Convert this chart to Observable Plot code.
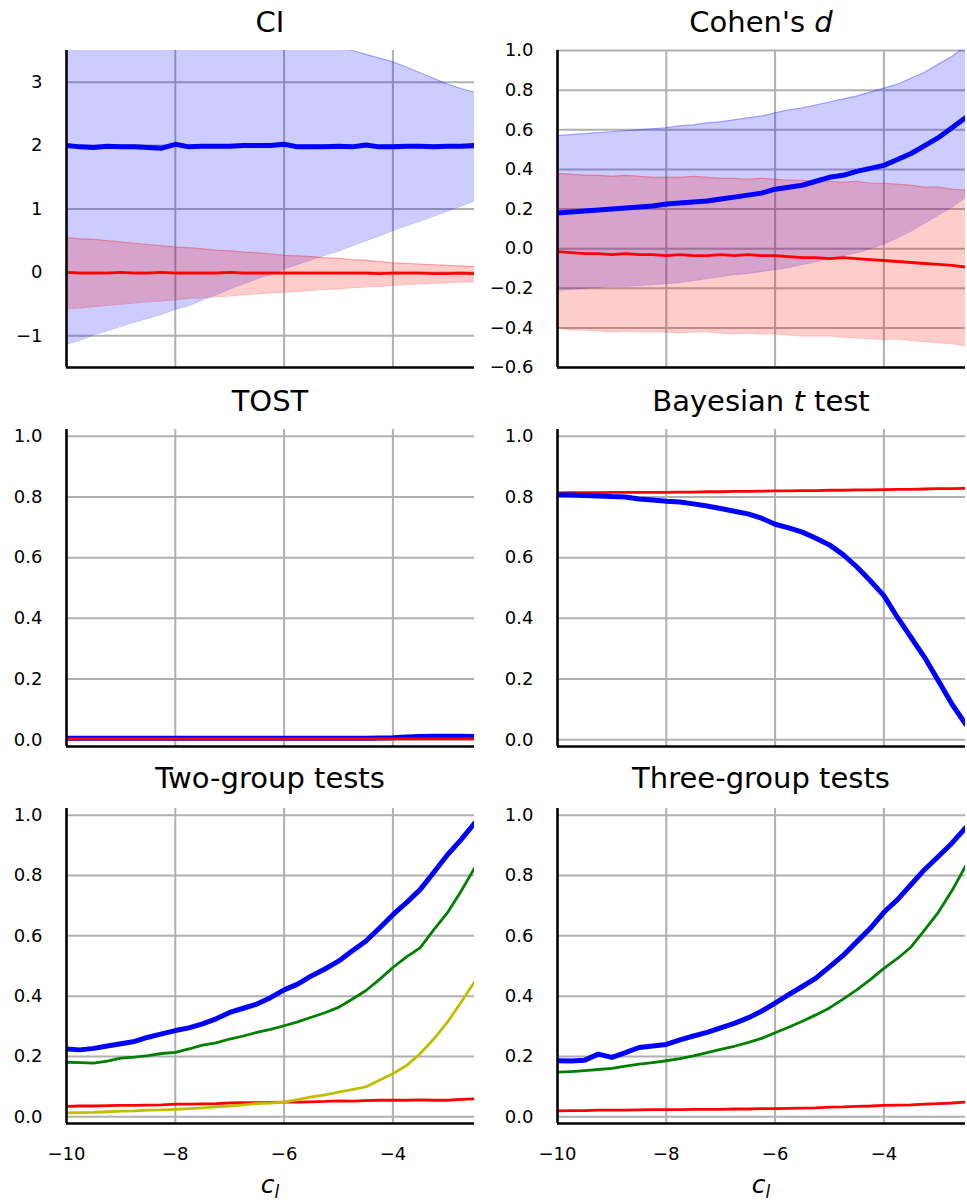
<!DOCTYPE html>
<html><head><meta charset="utf-8">
<script src="https://cdn.jsdelivr.net/npm/d3@7"></script>
<script src="https://cdn.jsdelivr.net/npm/@observablehq/plot@0.6"></script>
<style>
body{margin:0;background:#fff;font-family:"DejaVu Sans",sans-serif;}
#fig{position:relative;width:967px;height:1204px;overflow:hidden;}
.panel{position:absolute;}
.title{position:absolute;font-size:29px;line-height:34px;text-align:center;color:#000;white-space:nowrap;}
.xlabel{position:absolute;font-size:25px;line-height:25px;font-style:italic;text-align:center;color:#000;}
.xlabel span{font-size:17px;line-height:17px;position:relative;top:5px;}
</style></head><body><div id="fig"></div><script>
// x values (c_l)
const xs = [-10,-9.75,-9.5,-9.25,-9,-8.75,-8.5,-8.25,-8,-7.75,-7.5,-7.25,-7,-6.75,-6.5,-6.25,-6,-5.75,-5.5,-5.25,-5,-4.75,-4.5,-4.25,-4,-3.75,-3.5,-3.25,-3,-2.75,-2.5];
const xTicks = [-10,-8,-6,-4];

// CI panel
const ciBlueMean = [2.00,1.98,1.97,1.99,1.98,1.98,1.97,1.96,2.02,1.98,1.99,1.99,1.99,2.00,2.00,2.00,2.02,1.98,1.98,1.98,1.99,1.98,2.01,1.98,1.98,1.99,1.99,1.98,1.99,1.99,2.00];
const ciBlueLo = [-1.13,-1.07,-0.98,-0.92,-0.85,-0.78,-0.72,-0.66,-0.58,-0.52,-0.43,-0.35,-0.26,-0.18,-0.10,-0.03,0.06,0.13,0.20,0.27,0.34,0.42,0.50,0.58,0.66,0.74,0.81,0.89,0.97,1.05,1.13];
const ciBlueHi = [5.13,5.05,4.98,4.92,4.85,4.78,4.72,4.66,4.58,4.52,4.43,4.35,4.26,4.18,4.10,4.03,3.94,3.87,3.80,3.72,3.62,3.50,3.44,3.38,3.32,3.24,3.15,3.06,2.97,2.90,2.84];
const ciRedMean = [0.00,-0.01,-0.01,-0.01,0.00,-0.01,-0.01,0.00,-0.01,-0.01,-0.01,-0.01,0.00,-0.01,-0.01,-0.01,-0.01,-0.01,-0.01,-0.01,-0.01,-0.01,-0.01,-0.02,-0.01,-0.01,-0.01,-0.02,-0.02,-0.01,-0.02];
const ciRedHi = [0.55,0.53,0.52,0.50,0.48,0.46,0.44,0.42,0.40,0.39,0.37,0.35,0.34,0.32,0.31,0.29,0.27,0.26,0.25,0.23,0.22,0.20,0.19,0.17,0.15,0.14,0.13,0.12,0.11,0.10,0.09];
const ciRedLo = [-0.57,-0.56,-0.54,-0.52,-0.50,-0.48,-0.46,-0.45,-0.43,-0.41,-0.40,-0.38,-0.37,-0.35,-0.34,-0.32,-0.31,-0.30,-0.28,-0.27,-0.26,-0.24,-0.23,-0.22,-0.20,-0.19,-0.18,-0.17,-0.16,-0.15,-0.15];

// Cohen's d panel
const dBlueMean = [0.18,0.185,0.19,0.195,0.20,0.205,0.21,0.215,0.225,0.23,0.235,0.24,0.25,0.26,0.27,0.28,0.30,0.31,0.32,0.34,0.36,0.37,0.39,0.405,0.42,0.45,0.48,0.52,0.56,0.61,0.66];
const dBlueHi = [0.57,0.575,0.58,0.585,0.59,0.595,0.60,0.605,0.61,0.62,0.625,0.635,0.64,0.65,0.66,0.67,0.685,0.70,0.71,0.725,0.74,0.755,0.77,0.79,0.81,0.83,0.86,0.89,0.93,0.97,1.02];
const dBlueLo = [-0.21,-0.205,-0.20,-0.195,-0.19,-0.19,-0.185,-0.18,-0.175,-0.17,-0.16,-0.15,-0.14,-0.13,-0.125,-0.115,-0.105,-0.095,-0.08,-0.065,-0.05,-0.035,-0.02,0.00,0.025,0.055,0.09,0.13,0.17,0.21,0.26];
const dRedMean = [-0.015,-0.02,-0.025,-0.025,-0.03,-0.025,-0.03,-0.03,-0.035,-0.03,-0.035,-0.035,-0.03,-0.035,-0.03,-0.035,-0.035,-0.04,-0.045,-0.045,-0.05,-0.045,-0.05,-0.055,-0.06,-0.065,-0.07,-0.075,-0.08,-0.085,-0.093];
const dRedHi = [0.38,0.375,0.37,0.37,0.365,0.37,0.365,0.36,0.36,0.36,0.365,0.36,0.355,0.355,0.35,0.355,0.35,0.345,0.345,0.34,0.34,0.335,0.34,0.33,0.33,0.325,0.32,0.31,0.31,0.30,0.295];
const dRedLo = [-0.40,-0.41,-0.41,-0.415,-0.42,-0.415,-0.42,-0.42,-0.42,-0.425,-0.42,-0.42,-0.425,-0.43,-0.425,-0.43,-0.43,-0.435,-0.44,-0.44,-0.44,-0.445,-0.45,-0.455,-0.46,-0.455,-0.465,-0.47,-0.475,-0.48,-0.49];

// TOST panel
const tostBlue = [0.005,0.005,0.005,0.005,0.005,0.005,0.005,0.005,0.005,0.005,0.005,0.005,0.005,0.005,0.005,0.005,0.005,0.005,0.005,0.005,0.005,0.005,0.005,0.006,0.007,0.009,0.011,0.012,0.012,0.012,0.011];
const tostRed = [0.003,0.003,0.003,0.003,0.003,0.003,0.003,0.003,0.003,0.003,0.003,0.003,0.003,0.003,0.003,0.003,0.003,0.003,0.003,0.003,0.003,0.003,0.003,0.003,0.003,0.003,0.003,0.003,0.003,0.003,0.003];

// Bayesian t test panel
const bayesRed = [0.813,0.814,0.814,0.814,0.815,0.815,0.815,0.815,0.815,0.816,0.816,0.817,0.817,0.818,0.818,0.819,0.820,0.820,0.821,0.821,0.822,0.822,0.823,0.823,0.824,0.825,0.825,0.826,0.827,0.827,0.828];
const bayesBlue = [0.807,0.806,0.805,0.803,0.801,0.800,0.793,0.790,0.786,0.783,0.777,0.770,0.762,0.753,0.744,0.730,0.710,0.698,0.684,0.664,0.642,0.610,0.570,0.524,0.475,0.403,0.337,0.271,0.195,0.118,0.052];

// Two-group tests panel
const twoBlue = [0.225,0.222,0.227,0.235,0.242,0.250,0.264,0.275,0.286,0.295,0.308,0.325,0.346,0.360,0.374,0.395,0.421,0.440,0.467,0.490,0.516,0.550,0.582,0.625,0.670,0.710,0.753,0.810,0.868,0.918,0.973];
const twoGreen = [0.181,0.180,0.178,0.185,0.195,0.198,0.203,0.210,0.214,0.225,0.238,0.245,0.258,0.268,0.280,0.290,0.302,0.315,0.330,0.345,0.363,0.390,0.418,0.455,0.495,0.530,0.560,0.620,0.676,0.747,0.824];
const twoYellow = [0.013,0.014,0.015,0.017,0.019,0.020,0.022,0.023,0.025,0.027,0.030,0.033,0.036,0.040,0.044,0.046,0.049,0.057,0.066,0.073,0.082,0.090,0.099,0.121,0.143,0.170,0.209,0.258,0.313,0.379,0.447];
const twoRed = [0.035,0.036,0.036,0.037,0.038,0.038,0.039,0.040,0.042,0.042,0.043,0.044,0.046,0.047,0.047,0.048,0.049,0.049,0.050,0.051,0.053,0.052,0.054,0.055,0.055,0.055,0.056,0.055,0.055,0.058,0.060];

// Three-group tests panel
const threeBlue = [0.186,0.185,0.188,0.208,0.197,0.213,0.230,0.235,0.240,0.255,0.268,0.280,0.295,0.310,0.328,0.350,0.377,0.405,0.432,0.460,0.497,0.535,0.580,0.625,0.678,0.720,0.770,0.820,0.863,0.907,0.958];
const threeGreen = [0.148,0.150,0.153,0.157,0.161,0.168,0.175,0.180,0.186,0.193,0.202,0.213,0.224,0.234,0.246,0.260,0.279,0.297,0.317,0.338,0.361,0.390,0.421,0.455,0.492,0.525,0.563,0.620,0.678,0.749,0.831];
const threeRed = [0.020,0.021,0.021,0.022,0.022,0.022,0.023,0.024,0.024,0.024,0.025,0.025,0.025,0.026,0.026,0.027,0.027,0.028,0.029,0.030,0.032,0.033,0.035,0.036,0.038,0.039,0.040,0.042,0.044,0.046,0.049];

const titles = ["CI", "Cohen's <i>d</i>", "TOST", "Bayesian <i>t</i> test", "Two-group tests", "Three-group tests"];
const probTicks = [0, 0.2, 0.4, 0.6, 0.8, 1.0];
const probDomain = [-0.022, 1.022];

const BLUE = "#0000ff", RED = "#ff0000", GREEN = "#008000", YELLOW = "#bfbf00";

function band(lo, hi, color) {
  return [
    Plot.areaY(xs, {x: xs, y1: lo, y2: hi, fill: color, fillOpacity: 0.2, clip: true}),
    Plot.lineY(lo, {x: xs, stroke: color, strokeOpacity: 0.25, strokeWidth: 1.2, clip: true}),
    Plot.lineY(hi, {x: xs, stroke: color, strokeOpacity: 0.25, strokeWidth: 1.2, clip: true})
  ];
}
function ln(arr, color, w) {
  return Plot.lineY(arr, {x: xs, stroke: color, strokeWidth: w, clip: true, strokeLinejoin: "round"});
}

const fig = document.getElementById("fig");
const plotTops = [50, 429, 808], plotBottoms = [367, 746, 1123];
const titleTops = [5, 384, 761];

function panel(idx, ydomain, yticks, yfmt, marks) {
  const col = idx % 2, row = Math.floor(idx / 2);
  const left = col === 0 ? 0 : 483, width = col === 0 ? 483 : 484;
  const mL = col === 0 ? 66 : 74, mR = col === 0 ? 9 : 2;
  const mT = 10, mB = row === 2 ? 50 : 10;
  const height = plotBottoms[row] - plotTops[row] + mT + mB;
  const axisMarks = [Plot.axisY(yticks, {tickSize: 0, tickPadding: 24, tickFormat: yfmt, label: null, fontSize: 18})];
  if (row === 2) axisMarks.push(Plot.axisX(xTicks, {tickSize: 0, tickPadding: 24, tickFormat: d3.format("d"), label: null, fontSize: 18}));
  const p = Plot.plot({
    width, height, marginLeft: mL, marginRight: mR, marginTop: mT, marginBottom: mB,
    style: {fontFamily: "DejaVu Sans", fontSize: "18px", color: "#000", background: "transparent", overflow: "visible"},
    x: {domain: [-10, -2.5], axis: row === 2 ? undefined : null},
    y: {domain: ydomain},
    marks: [
      Plot.gridX(xTicks, {stroke: "#b0b0b0", strokeOpacity: 1, strokeWidth: 2}),
      Plot.gridY(yticks, {stroke: "#b0b0b0", strokeOpacity: 1, strokeWidth: 2}),
      ...marks,
      Plot.ruleX([-10], {stroke: "#000", strokeWidth: 2.5}),
      Plot.ruleY([ydomain[0]], {stroke: "#000", strokeWidth: 2.5}),
      ...axisMarks
    ]
  });
  p.classList.add("panel");
  p.style.left = left + "px";
  p.style.top = (plotTops[row] - mT) + "px";
  fig.appendChild(p);
  const t = document.createElement("div");
  t.className = "title";
  t.innerHTML = titles[idx];
  t.style.left = (left + mL) + "px";
  t.style.width = (width - mL - mR) + "px";
  t.style.top = titleTops[row] + "px";
  fig.appendChild(t);
  if (row === 2) {
    const xl = document.createElement("div");
    xl.className = "xlabel";
    xl.innerHTML = "c<span>l</span>";
    xl.style.left = (left + mL) + "px";
    xl.style.width = (width - mL - mR) + "px";
    xl.style.top = "1172px";
    fig.appendChild(xl);
  }
}

const f1 = d3.format(".1f");
panel(0, [-1.5, 3.5], [-1, 0, 1, 2, 3], d3.format("d"), [
  ...band(ciBlueLo, ciBlueHi, BLUE),
  ...band(ciRedLo, ciRedHi, RED),
  ln(ciBlueMean, BLUE, 5),
  ln(ciRedMean, RED, 2.8)
]);
panel(1, [-0.6, 1.0], [-0.6, -0.4, -0.2, 0, 0.2, 0.4, 0.6, 0.8, 1.0], f1, [
  ...band(dBlueLo, dBlueHi, BLUE),
  ...band(dRedLo, dRedHi, RED),
  ln(dBlueMean, BLUE, 5),
  ln(dRedMean, RED, 2.8)
]);
panel(2, probDomain, probTicks, f1, [
  ln(tostBlue, BLUE, 5),
  ln(tostRed, RED, 2.8)
]);
panel(3, probDomain, probTicks, f1, [
  ln(bayesRed, RED, 2.8),
  ln(bayesBlue, BLUE, 5)
]);
panel(4, probDomain, probTicks, f1, [
  ln(twoBlue, BLUE, 5),
  ln(twoGreen, GREEN, 2.8),
  ln(twoRed, RED, 2.8),
  ln(twoYellow, YELLOW, 2.8)
]);
panel(5, probDomain, probTicks, f1, [
  ln(threeBlue, BLUE, 5),
  ln(threeGreen, GREEN, 2.8),
  ln(threeRed, RED, 2.8)
]);
</script></body></html>
